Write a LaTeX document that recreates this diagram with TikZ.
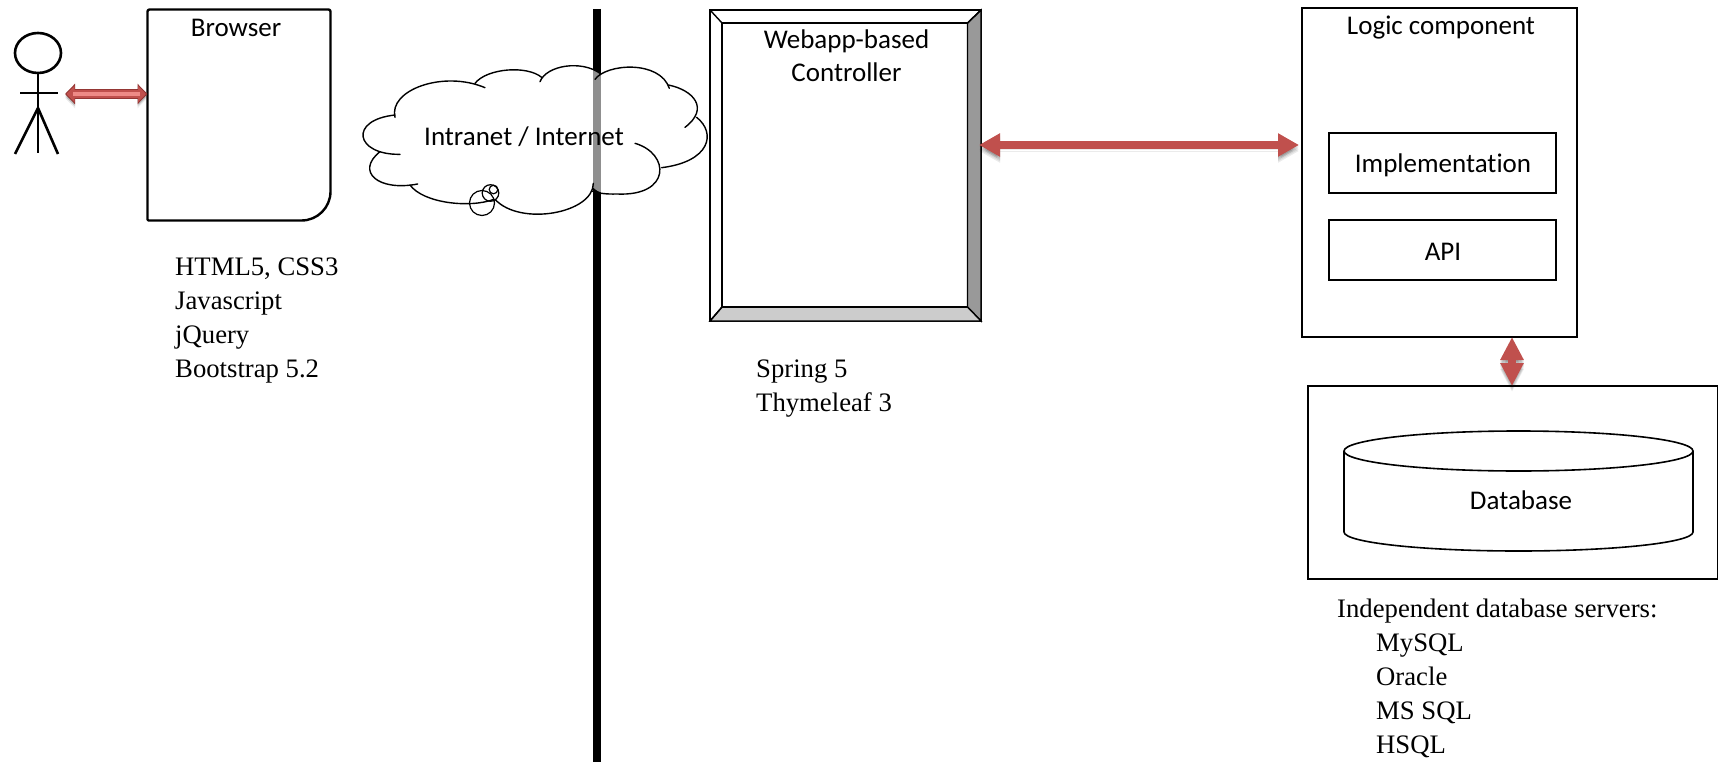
\documentclass[tikz,border=0pt]{standalone}
\usepackage{fontspec}
\setmainfont{Liberation Serif}
\setsansfont{Carlito}[Ligatures=NoCommon]
\usetikzlibrary{arrows.meta,calc}
\definecolor{arrowred}{HTML}{C0504D}
\definecolor{arrowdark}{HTML}{943634}
\definecolor{arrowlight}{HTML}{EE8A86}
\tikzset{
  sanslabel/.style={font=\sffamily\fontsize{27}{32.5}\selectfont,align=center,inner sep=0pt,text=black},
  seriflabel/.style={font=\rmfamily\fontsize{26.7}{34}\selectfont,align=left,inner sep=0pt,anchor=north west,text=black},
  box/.style={draw=black,fill=white,line width=1.8pt,rectangle,inner sep=0pt,outer sep=0pt,anchor=north west},
  stickline/.style={line width=2.6pt,line cap=butt},
  cloudline/.style={line width=1.4pt,line cap=round},
  softshadow/.style={preaction={draw=black,opacity=.08,transform canvas={yshift=-#1}}},
  bigtips/.style={{Triangle[length=#1,width=22pt]}-{Triangle[length=#1,width=22pt]}},
  redarrow/.style={line width=8.2pt,draw=arrowred,bigtips=#1,
    softshadow=1.5pt,softshadow=3pt,softshadow=4.5pt,softshadow=6pt},
}
\begin{document}
\begin{tikzpicture}[x=1pt,y=-1pt]
\useasboundingbox (0,0) rectangle (1718,762);

% separating wall
\coordinate (walltop) at (597,9);
\coordinate (wallbottom) at (597,762);
\draw[line width=8pt] (walltop) -- (wallbottom);

% stick figure
\draw[stickline] (38,53) ellipse [x radius=23pt,y radius=20pt];
\draw[stickline] (38,73) -- (38,153);
\draw[stickline] (20,93) -- (58,93);
\draw[stickline] (38,108) -- (15,154);
\draw[stickline] (38,108) -- (58,154);
\coordinate (hand) at (65,94);

% browser
\node[rectangle,inner sep=0pt,outer sep=0pt,minimum width=183pt,minimum height=211pt,anchor=north west] (browser) at (147.5,9.5) {};
\draw[line width=2.4pt,fill=white,line join=round,rounded corners=2pt]
  (browser.south west) -- (browser.north west) -- (browser.north east)
  [rounded corners=29pt] -- (browser.south east)
  [rounded corners=1pt] -- (browser.south west) -- cycle;
\node[sanslabel] (browserlabel) at (236,28) {Browser};
\node[seriflabel] (browsertech) at (175,257.5) {HTML5, CSS3\\Javascript\\jQuery\\Bootstrap 5.2};

% browser arrow
\draw[line width=10pt,draw=arrowdark,{Triangle[length=10pt,width=20pt]}-{Triangle[length=10pt,width=20pt]},
  preaction={draw=black,opacity=.12,transform canvas={yshift=-2pt}},
  preaction={draw=black,opacity=.08,transform canvas={yshift=-4pt}}]
  (hand) -- (hand -| browser.west);
\draw[line width=8pt,draw=arrowred,{Triangle[length=8pt,width=16pt]}-{Triangle[length=8pt,width=16pt]}]
  ($(hand)+(1.5,0)$) -- ($(hand -| browser.west)+(-1.5,0)$);
\draw[line width=3.5pt,draw=arrowlight] ($(hand)+(8,0)$) -- ($(hand -| browser.west)+(-8,0)$);

% cloud
\begin{scope}[shift={(340,40)},x=.33333pt,y=-.33333pt]
  \fill[white,opacity=.56]
    (165,232) .. controls (145,150) and (310,90) .. (435,143)
    -- (405,130) .. controls (440,85) and (560,75) .. (605,112)
    -- (600,125) .. controls (620,75) and (725,60) .. (780,100)
    -- (765,118) .. controls (800,70) and (960,60) .. (988,145)
    -- (985,135) .. controls (1060,150) and (1110,205) .. (1035,262)
    -- (1070,232) .. controls (1130,280) and (1110,365) .. (965,383)
    .. controls (995,470) and (900,465) .. (830,462)
    .. controls (800,463) and (775,460) .. (757,440)
    .. controls (760,520) and (540,560) .. (465,478)
    .. controls (390,505) and (250,490) .. (210,435)
    -- (233,432) .. controls (115,455) and (45,395) .. (120,335)
    -- (180,343) .. controls (45,345) and (25,240) .. (165,225) -- cycle;
  \draw[cloudline] (165,232) .. controls (145,150) and (310,90) .. (435,143);
  \draw[cloudline] (405,130) .. controls (440,85) and (560,75) .. (605,112);
  \draw[cloudline] (600,125) .. controls (620,75) and (725,60) .. (780,100);
  \draw[cloudline] (765,118) .. controls (800,70) and (960,60) .. (988,145);
  \draw[cloudline] (985,135) .. controls (1060,150) and (1110,205) .. (1035,262);
  \draw[cloudline] (1070,232) .. controls (1130,280) and (1110,365) .. (965,383);
  \draw[cloudline] (885,310) .. controls (990,340) and (995,470) .. (830,462)
    .. controls (800,463) and (775,460) .. (755,453);
  \draw[cloudline] (760,430) .. controls (760,520) and (540,560) .. (465,478);
  \draw[cloudline] (462,478) .. controls (390,505) and (250,490) .. (210,435);
  \draw[cloudline] (233,432) .. controls (115,455) and (45,395) .. (120,335);
  \draw[cloudline] (180,343) .. controls (45,345) and (25,240) .. (165,225);
\end{scope}
\draw[line width=1.2pt] (482,203) circle [radius=12.5pt];
\draw[line width=1.2pt] (490.5,193) circle [radius=8.3pt];
\draw[line width=1.2pt] (493.5,189.5) circle [radius=4.3pt];
\node[sanslabel] (cloudlabel) at (524,137) {Intranet / Internet};

% web application frame
\node[box,line width=2pt,minimum width=271pt,minimum height=311pt] (webapp) at (710,10) {};
\coordinate (innernw) at (722,23);
\coordinate (innerne) at (967.5,23);
\coordinate (innerse) at (967.5,307);
\coordinate (innersw) at (722,307);
\draw[line width=1.4pt,fill=black!40] (webapp.north east) -- (webapp.south east) -- (innerse) -- (innerne) -- cycle;
\draw[line width=1.4pt,fill=black!20] (webapp.south west) -- (webapp.south east) -- (innerse) -- (innersw) -- cycle;
\draw[line width=1.4pt] (innernw) -- (innerne) -- (innerse) -- (innersw) -- cycle;
\draw[line width=1.4pt] (webapp.north west) -- (innernw);
\draw[line width=1.4pt] (webapp.north east) -- (innerne);
\draw[line width=1.4pt] (webapp.south west) -- (innersw);
\node[sanslabel] (webapplabel) at (846.5,55.5) {Webapp-based\\Controller};
\node[seriflabel] (webapptech) at (756,359.5) {Spring 5\\Thymeleaf 3};

% logic component
\node[box,minimum width=275pt,minimum height=329pt] (logic) at (1302,8) {};
\node[sanslabel] (logiclabel) at (1441,28) {Logic component};
\node[box,minimum width=227pt,minimum height=60pt] (impl) at (1329,133) {};
\node[sanslabel] (impllabel) at (1443,165) {Implementation};
\node[box,minimum width=227pt,minimum height=60pt] (api) at (1329,220) {};
\node[sanslabel] (apilabel) at (1443,252) {API};

% database
\node[box,minimum width=410pt,minimum height=193pt] (dbbox) at (1308,386) {};
\draw[line width=1.6pt] (1344,451) -- (1344,532)
  .. controls (1344,542.5) and (1422,551) .. (1518.5,551)
  .. controls (1615,551) and (1693,542.5) .. (1693,532) -- (1693,451);
\draw[line width=1.6pt] (1518.5,451) ellipse [x radius=174.5pt,y radius=20pt];
\node[sanslabel] (dblabel) at (1521,500.5) {Database};
\node[seriflabel] (dbtech) at (1337,599) {Independent database servers:\\
  \hspace*{39pt}MySQL\\\hspace*{39pt}Oracle\\\hspace*{39pt}MS SQL\\\hspace*{39pt}HSQL};

% main connectors
\coordinate (mainlevel) at (1140,145);
\draw[redarrow=21pt] ($(webapp.east |- mainlevel)+(-2,0)$) -- ($(logic.west |- mainlevel)+(-3,0)$);
\coordinate (dblevel) at (1512,360);
\draw[redarrow=23pt] (dblevel |- logic.south) -- (dblevel |- dbbox.north);
\end{tikzpicture}
\end{document}
